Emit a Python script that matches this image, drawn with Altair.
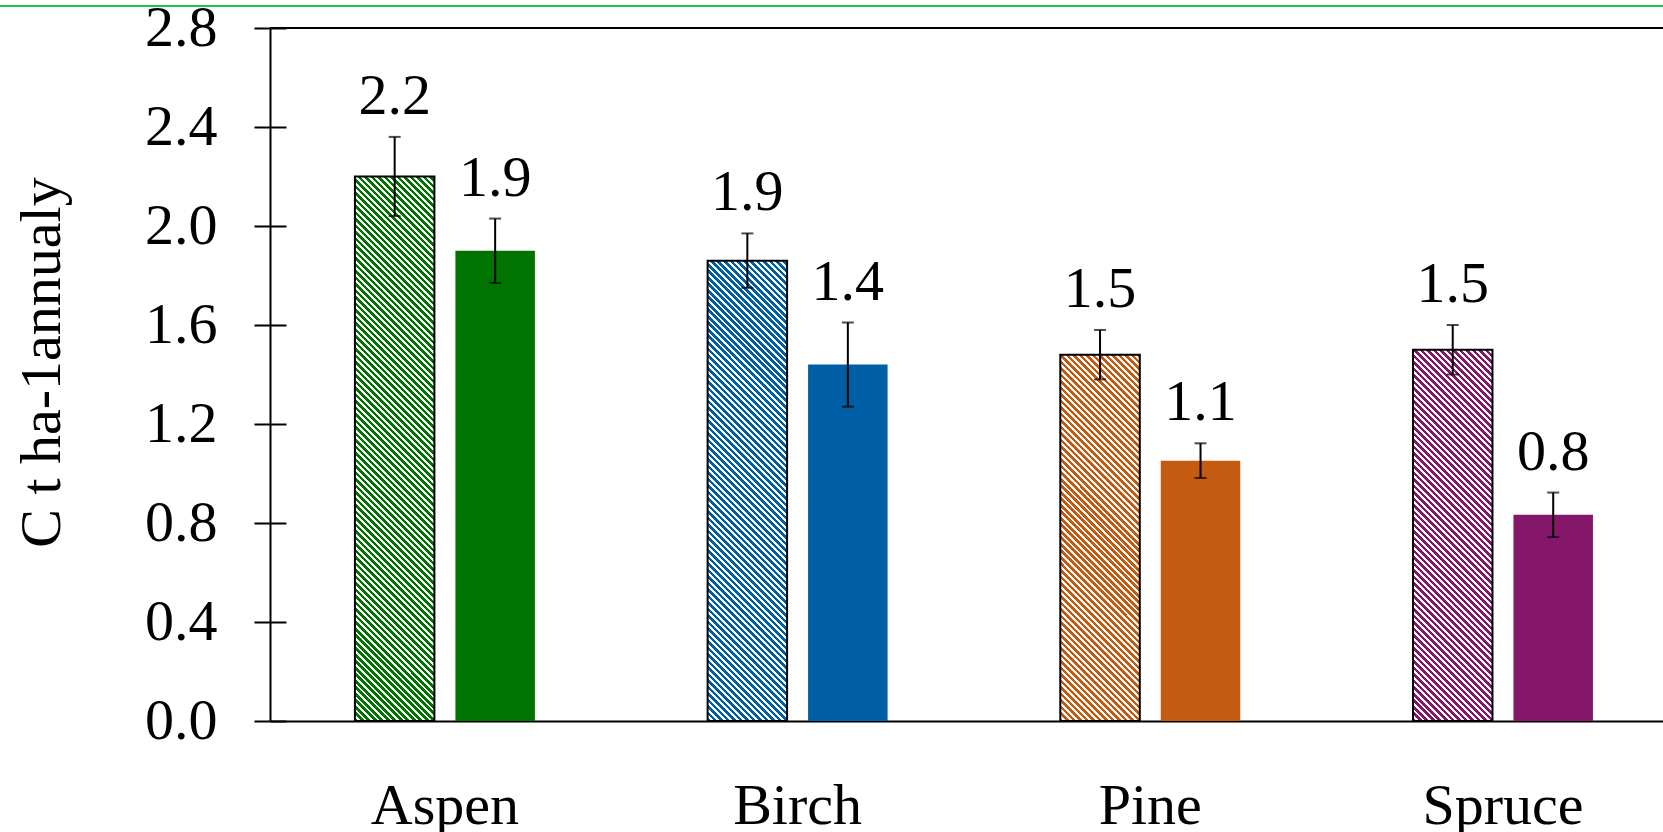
import math

import altair as alt
import pandas as pd

# Carbon sequestration per species: hatched and solid series with error margins
species = ["Aspen", "Birch", "Pine", "Spruce"]
kinds = ["hatched", "solid"]
hatched_values = [2.20, 1.86, 1.48, 1.50]
hatched_errors = [0.16, 0.11, 0.10, 0.10]
solid_values = [1.90, 1.44, 1.052, 0.833]
solid_errors = [0.13, 0.17, 0.07, 0.09]
species_colors = ["#007300", "#005ea4", "#c55a11", "#85176a"]
y_ticks = [0.0, 0.4, 0.8, 1.2, 1.6, 2.0, 2.4, 2.8]
y_title = "C t ha-1annualy"

rows = []
for i, name in enumerate(species):
    for kind, vals, errs in (
        ("hatched", hatched_values, hatched_errors),
        ("solid", solid_values, solid_errors),
    ):
        v, e = vals[i], errs[i]
        rows.append({"species": name, "kind": kind, "value": v, "lo": v - e, "hi": v + e})
df = pd.DataFrame(rows)
top_df = pd.DataFrame({"top": [y_ticks[-1]]})

PLOT_W, PLOT_H = 1393, 693
Y_MAX = y_ticks[-1]
BAR_W = 79.5
FONT = "Liberation Serif"
FS = 58


def hatch_fill(color, value, period=4.6, ink=0.55):
    """Diagonal stripe fill built from a hard-stop linear gradient.

    The gradient lives in the bar's bounding-box units, so its direction is
    corrected for the bar's aspect ratio to keep the stripes at 45 degrees.
    """
    w = BAR_W
    h = value * PLOT_H / Y_MAX
    a = (w + h) / (w * w + h * h)
    n = (w + h) / math.sqrt(2) / period
    stops = []
    k = 0
    while k < n:
        t0 = min(k / n, 1.0)
        t1 = min((k + ink) / n, 1.0)
        t2 = min((k + 1) / n, 1.0)
        stops += [
            {"offset": t0, "color": color},
            {"offset": t1, "color": color},
            {"offset": t1, "color": "white"},
            {"offset": t2, "color": "white"},
        ]
        k += 1
    return {
        "gradient": "linear",
        "x1": 0,
        "y1": 1,
        "x2": a * w,
        "y2": 1 - a * h,
        "stops": stops,
    }


x_enc = alt.X(
    "species:N",
    sort=species,
    scale=alt.Scale(domain=species, paddingInner=0.4897, paddingOuter=0.2197, align=0.548),
    axis=alt.Axis(
        title=None,
        ticks=False,
        tickSize=0,
        domainWidth=2,
        domainColor="black",
        labelAngle=0,
        labelFont=FONT,
        labelFontSize=FS,
        labelColor="black",
        labelPadding=56,
    ),
)
xo_enc = alt.XOffset(
    "kind:N", scale=alt.Scale(domain=kinds, paddingInner=0.209, paddingOuter=0)
)
y_scale = alt.Scale(domain=[0, Y_MAX], nice=False, zero=True)

main_axis = alt.Axis(
    values=y_ticks,
    format=".1f",
    orient="left",
    grid=False,
    tickSize=16,
    tickWidth=2,
    tickColor="black",
    domainWidth=2,
    domainColor="black",
    labelPadding=37,
    labelFont=FONT,
    labelFontSize=FS,
    labelColor="black",
    title=y_title,
    titleFont=FONT,
    titleFontSize=FS,
    titleFontWeight="normal",
    titleColor="black",
    titleAngle=270,
    titleAlign="center",
    titleBaseline="alphabetic",
    titleX=-211,
    titleY=334,
)
# inward half of the crossing tick marks
inner_axis = alt.Axis(
    values=y_ticks,
    orient="left",
    offset=-16,
    grid=False,
    domain=False,
    labels=False,
    title=None,
    tickSize=16,
    tickWidth=2,
    tickColor="black",
)

solid_bars = (
    alt.Chart(df[df["kind"] == "solid"])
    .mark_bar()
    .encode(
        x=x_enc,
        xOffset=xo_enc,
        y=alt.Y("value:Q", scale=y_scale, axis=main_axis),
        color=alt.Color(
            "species:N", scale=alt.Scale(domain=species, range=species_colors), legend=None
        ),
    )
)

hatched_bars = []
for name, color, value in zip(species, species_colors, hatched_values):
    sub = df[(df["kind"] == "hatched") & (df["species"] == name)]
    hatched_bars.append(
        alt.Chart(sub)
        .mark_bar(fill=hatch_fill(color, value), stroke="black", strokeWidth=2)
        .encode(x=x_enc, xOffset=xo_enc, y=alt.Y("value:Q", scale=y_scale, axis=None))
    )

err_lines = (
    alt.Chart(df)
    .mark_rule(color="black", strokeWidth=2)
    .encode(
        x=x_enc,
        xOffset=xo_enc,
        y=alt.Y("lo:Q", scale=y_scale, axis=None),
        y2="hi:Q",
    )
)
err_top = (
    alt.Chart(df)
    .mark_tick(color="black", thickness=2, size=12)
    .encode(x=x_enc, xOffset=xo_enc, y=alt.Y("hi:Q", scale=y_scale, axis=None))
)
err_bottom = (
    alt.Chart(df)
    .mark_tick(color="black", thickness=2, size=12)
    .encode(x=x_enc, xOffset=xo_enc, y=alt.Y("lo:Q", scale=y_scale, axis=None))
)

value_labels = (
    alt.Chart(df)
    .mark_text(font=FONT, fontSize=FS, baseline="alphabetic", dy=-23, color="black")
    .encode(
        x=x_enc,
        xOffset=xo_enc,
        y=alt.Y("hi:Q", scale=y_scale, axis=None),
        text=alt.Text("value:Q", format=".1f"),
    )
)

top_border = (
    alt.Chart(top_df)
    .mark_rule(color="black", strokeWidth=2)
    .encode(y=alt.Y("top:Q", scale=y_scale, axis=inner_axis))
)

page_rule = (
    alt.Chart(top_df)
    .mark_rule(color="#1fc05a", strokeWidth=2)
    .encode(x=alt.value(-270), x2=alt.value(PLOT_W), y=alt.value(-22))
)

chart = (
    alt.layer(
        solid_bars,
        *hatched_bars,
        err_lines,
        err_top,
        err_bottom,
        value_labels,
        top_border,
        page_rule,
    )
    .resolve_axis(y="independent")
    .properties(
        width=PLOT_W,
        height=PLOT_H,
        autosize=alt.AutoSizeParams(type="none"),
        padding={"left": 270, "top": 28, "right": 0, "bottom": 111},
        background="white",
    )
    .configure_view(stroke=None)
)

chart.save("out.html", embed_options={"renderer": "svg", "actions": False})
